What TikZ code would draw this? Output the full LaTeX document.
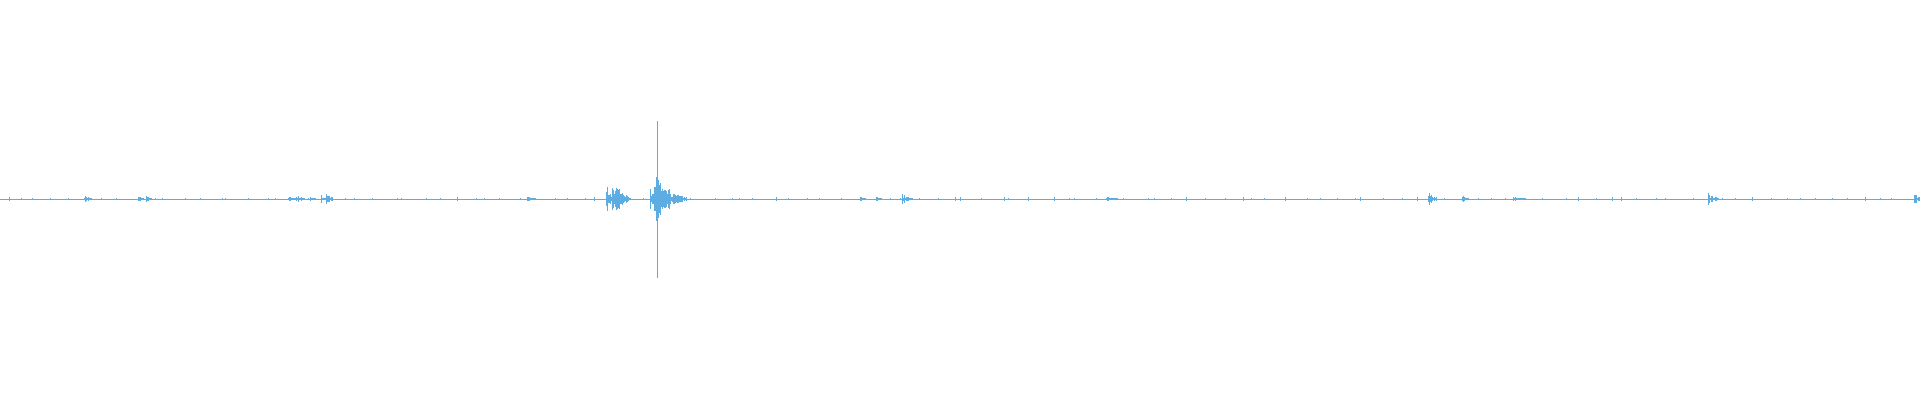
\documentclass[tikz,border=0pt]{standalone}
\begin{document}
\definecolor{wave}{RGB}{93,173,226}
\newcommand\wburst[3]{%
  \foreach \i in {0,...,#3}{%
    \pgfmathsetmacro\aa{#2*exp(-\i/(#3/2+1))*(0.15+0.85*rnd)+0.5}%
    \draw (#1+\i,199-\aa)--(#1+\i,199+\aa);
  }}
\begin{tikzpicture}[x=1pt,y=-1pt,line width=1pt,color=wave]
\pgfmathsetseed{11}
\fill[white] (0,0) rectangle (1920,400);
\useasboundingbox (0,0) rectangle (1920,400);
\draw (0,199)--(1920,199);
\foreach \k in {0,...,120}{%
  \pgfmathsetmacro\xx{int(\k*16+15*rnd)}%
  \pgfmathsetmacro\nn{0.6+1.2*rnd}%
  \draw (\xx,199-\nn)--(\xx,199+\nn);
}
\wburst{84}{5}{7}
\wburst{138}{2}{5}
\wburst{146}{3}{5}
\wburst{288}{3}{7}
\wburst{295}{4}{9}
\wburst{310}{2}{5}
\wburst{321}{4}{4}
\wburst{326}{6}{6}
\wburst{527}{3}{8}
\wburst{606}{13}{24}
\wburst{612}{17}{10}
\wburst{616}{15}{12}
\wburst{650}{14}{36}
\wburst{655}{25}{26}
\draw (657,121)--(657,278);
\wburst{860}{2}{5}
\wburst{876}{2}{5}
\wburst{902}{6}{10}
\wburst{1106}{2}{10}
\wburst{1428}{7}{7}
\wburst{1462}{6}{5}
\wburst{1513}{3}{12}
\wburst{1708}{6}{10}
\wburst{1914}{9}{5}
\end{tikzpicture}
\end{document}
